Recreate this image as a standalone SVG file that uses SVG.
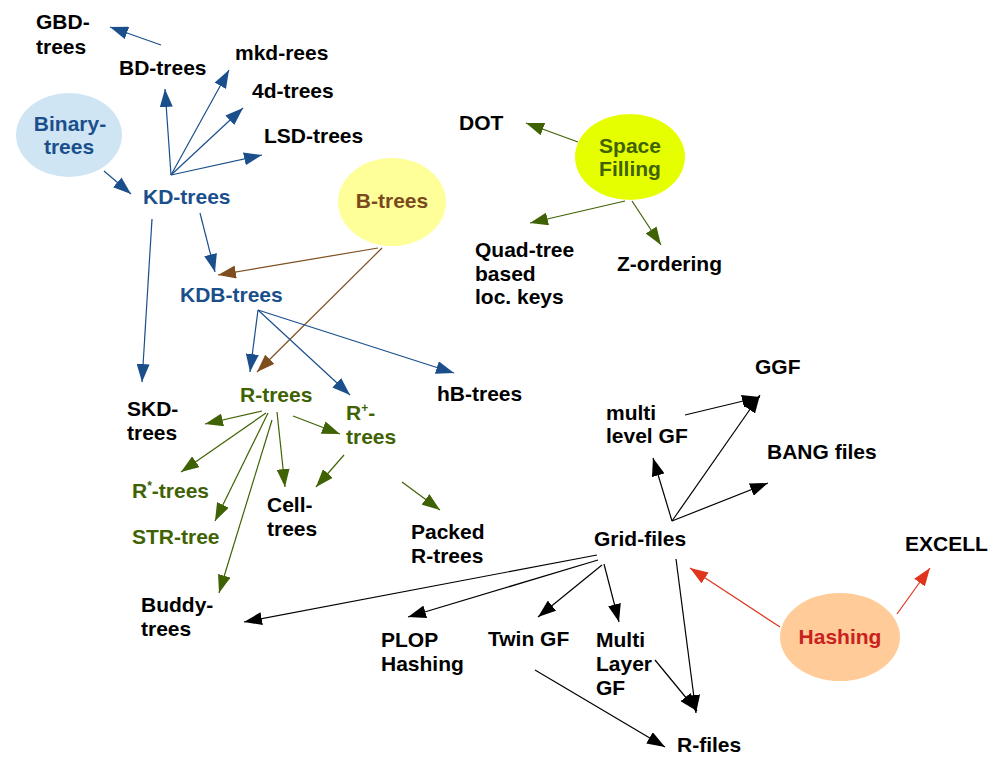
<svg xmlns="http://www.w3.org/2000/svg" width="1000" height="768" viewBox="0 0 1000 768">
<style>
text{font-family:"Liberation Sans",Arial,sans-serif;font-weight:bold;font-size:21px}
.k{fill:#000}.b{fill:#1b4f8c}.g{fill:#3f6204}.br{fill:#7a4a1d}.r{fill:#c9211e}
.lb{stroke:#1b4f8c;stroke-width:1.2;fill:none;marker-end:url(#mb)}
.lg{stroke:#3f6204;stroke-width:1.2;fill:none;marker-end:url(#mg)}
.lbr{stroke:#7f4e1f;stroke-width:1.2;fill:none;marker-end:url(#mbr)}
.lk{stroke:#000;stroke-width:1.2;fill:none;marker-end:url(#mk)}
.lr{stroke:#e0341c;stroke-width:1.2;fill:none;marker-end:url(#mr)}
.sup{font-size:12px}
</style>
<defs>
<marker id="mb" markerUnits="userSpaceOnUse" markerWidth="19" markerHeight="13" refX="18" refY="6.5" orient="auto"><path d="M0,0L18,6.5L0,13z" fill="#1b4f8c"/></marker>
<marker id="mg" markerUnits="userSpaceOnUse" markerWidth="19" markerHeight="13" refX="18" refY="6.5" orient="auto"><path d="M0,0L18,6.5L0,13z" fill="#3f6204"/></marker>
<marker id="mbr" markerUnits="userSpaceOnUse" markerWidth="19" markerHeight="13" refX="18" refY="6.5" orient="auto"><path d="M0,0L18,6.5L0,13z" fill="#7f4e1f"/></marker>
<marker id="mk" markerUnits="userSpaceOnUse" markerWidth="19" markerHeight="13" refX="18" refY="6.5" orient="auto"><path d="M0,0L18,6.5L0,13z" fill="#000"/></marker>
<marker id="mr" markerUnits="userSpaceOnUse" markerWidth="19" markerHeight="13" refX="18" refY="6.5" orient="auto"><path d="M0,0L18,6.5L0,13z" fill="#e0341c"/></marker>
</defs>
<rect width="1000" height="768" fill="#fff"/>
<g id="connectors">
<line class="lb" x1="161" y1="45" x2="110" y2="27"/>
<line class="lb" x1="171" y1="175" x2="165" y2="89"/>
<line class="lb" x1="171" y1="175" x2="229" y2="70"/>
<line class="lb" x1="171" y1="175" x2="243" y2="108"/>
<line class="lb" x1="171" y1="175" x2="262" y2="155"/>
<line class="lb" x1="104" y1="171" x2="131" y2="194"/>
<line class="lb" x1="152" y1="219" x2="142" y2="382"/>
<line class="lb" x1="200" y1="213" x2="215" y2="272"/>
<line class="lbr" x1="378" y1="248" x2="218" y2="275"/>
<line class="lbr" x1="382" y1="248" x2="257" y2="372"/>
<line class="lb" x1="258" y1="310" x2="250" y2="372"/>
<line class="lb" x1="258" y1="310" x2="350" y2="395"/>
<line class="lb" x1="258" y1="310" x2="454" y2="373"/>
<line class="lg" x1="262" y1="411" x2="205" y2="424"/>
<line class="lg" x1="266" y1="413" x2="181" y2="472"/>
<line class="lg" x1="268" y1="413" x2="215" y2="521"/>
<line class="lg" x1="272" y1="420" x2="219" y2="593"/>
<line class="lg" x1="277" y1="412" x2="285" y2="487"/>
<line class="lg" x1="293" y1="416" x2="340" y2="434"/>
<line class="lg" x1="344" y1="455" x2="316" y2="487"/>
<line class="lg" x1="402" y1="482" x2="440" y2="510"/>
<line class="lg" x1="578" y1="142" x2="526" y2="123"/>
<line class="lg" x1="625" y1="201" x2="530" y2="223"/>
<line class="lg" x1="632" y1="201" x2="661" y2="245"/>
<line class="lk" x1="672" y1="521" x2="653" y2="458"/>
<line class="lk" x1="672" y1="521" x2="760" y2="395"/>
<line class="lk" x1="672" y1="521" x2="768" y2="483"/>
<line class="lk" x1="685" y1="415" x2="760" y2="397"/>
<line class="lk" x1="597" y1="555" x2="244" y2="622"/>
<line class="lk" x1="598" y1="560" x2="408" y2="617"/>
<line class="lk" x1="602" y1="565" x2="538" y2="617"/>
<line class="lk" x1="604" y1="564" x2="619" y2="622"/>
<line class="lk" x1="676" y1="559" x2="696" y2="713"/>
<line class="lk" x1="655" y1="660" x2="697" y2="711"/>
<line class="lk" x1="535" y1="670" x2="665" y2="747"/>
<line class="lr" x1="780" y1="627" x2="690" y2="568"/>
<line class="lr" x1="897" y1="614" x2="930" y2="568"/>
</g>
<g id="n-binary"><ellipse cx="69" cy="135" rx="53" ry="42" fill="#cfe5f4"/><text class="b" x="70" y="131" text-anchor="middle">Binary-</text><text class="b" x="69" y="154" text-anchor="middle">trees</text></g>
<g id="n-btrees"><ellipse cx="392" cy="202" rx="54" ry="44" fill="#ffff99"/><text class="br" x="392" y="208" text-anchor="middle">B-trees</text></g>
<g id="n-space"><ellipse cx="630" cy="157" rx="55" ry="43" fill="#e6ff00"/><text class="g" x="630" y="153" text-anchor="middle">Space</text><text class="g" x="630" y="176" text-anchor="middle">Filling</text></g>
<g id="n-hashing"><ellipse cx="840" cy="637" rx="60" ry="44" fill="#ffcc99"/><text class="r" x="840" y="644" text-anchor="middle">Hashing</text></g>
<g id="n-gbd"><text class="k" x="36" y="29">GBD-</text><text class="k" x="36" y="54">trees</text></g>
<g id="n-bd"><text class="k" x="119" y="75">BD-trees</text></g>
<g id="n-mkd"><text class="k" x="235" y="60">mkd-rees</text></g>
<g id="n-4d"><text class="k" x="252" y="98">4d-trees</text></g>
<g id="n-lsd"><text class="k" x="264" y="143">LSD-trees</text></g>
<g id="n-kd"><text class="b" x="143" y="204">KD-trees</text></g>
<g id="n-kdb"><text class="b" x="180" y="302">KDB-trees</text></g>
<g id="n-skd"><text class="k" x="127" y="416">SKD-</text><text class="k" x="127" y="440">trees</text></g>
<g id="n-rtrees"><text class="g" x="240" y="402">R-trees</text></g>
<g id="n-rplus"><text class="g" x="346" y="420">R<tspan class="sup" dy="-8">+</tspan><tspan dy="8">-</tspan></text><text class="g" x="346" y="444">trees</text></g>
<g id="n-hb"><text class="k" x="437" y="401">hB-trees</text></g>
<g id="n-rstar"><text class="g" x="132" y="498">R<tspan class="sup" dy="-8">*</tspan><tspan dy="8">-trees</tspan></text></g>
<g id="n-str"><text class="g" x="132" y="544">STR-tree</text></g>
<g id="n-cell"><text class="k" x="267" y="512">Cell-</text><text class="k" x="267" y="536">trees</text></g>
<g id="n-packed"><text class="k" x="411" y="539">Packed</text><text class="k" x="411" y="563">R-trees</text></g>
<g id="n-buddy"><text class="k" x="141" y="612">Buddy-</text><text class="k" x="141" y="636">trees</text></g>
<g id="n-dot"><text class="k" x="459" y="130">DOT</text></g>
<g id="n-quad"><text class="k" x="475" y="257">Quad-tree</text><text class="k" x="475" y="281">based</text><text class="k" x="475" y="304">loc. keys</text></g>
<g id="n-z"><text class="k" x="617" y="271">Z-ordering</text></g>
<g id="n-ggf"><text class="k" x="755" y="374">GGF</text></g>
<g id="n-mlgf"><text class="k" x="606" y="420">multi</text><text class="k" x="606" y="443">level GF</text></g>
<g id="n-bang"><text class="k" x="767" y="459">BANG files</text></g>
<g id="n-grid"><text class="k" x="594" y="546">Grid-files</text></g>
<g id="n-excell"><text class="k" x="905" y="551">EXCELL</text></g>
<g id="n-plop"><text class="k" x="381" y="647">PLOP</text><text class="k" x="381" y="671">Hashing</text></g>
<g id="n-twin"><text class="k" x="488" y="646">Twin GF</text></g>
<g id="n-mlayer"><text class="k" x="596" y="647">Multi</text><text class="k" x="596" y="671">Layer</text><text class="k" x="596" y="695">GF</text></g>
<g id="n-rfiles"><text class="k" x="677" y="752">R-files</text></g>
</svg>
